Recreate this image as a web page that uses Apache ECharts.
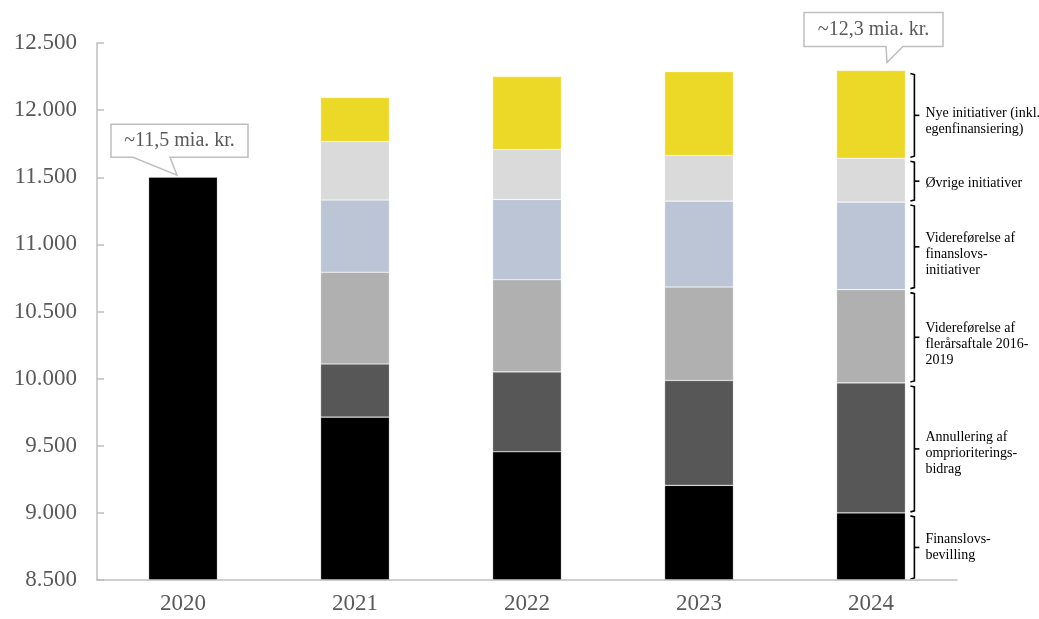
<!DOCTYPE html>
<html>
<head>
<meta charset="utf-8">
<script src="https://cdn.jsdelivr.net/npm/echarts@6/dist/echarts.min.js"></script>
<style>
html,body{margin:0;padding:0;background:#fff;}
#chart{width:1039px;height:619px;}
</style>
</head>
<body>
<div id="chart"></div>
<script>
// ---- data ----
const categories = ['2020', '2021', '2022', '2023', '2024'];
const finanslovsbevilling = [11500, 9713, 9455, 9205, 9000];
const annullering = ['-', 396, 595, 781, 968];
const flerarsaftale = ['-', 683, 687, 696, 695];
const finanslovsInitiativer = ['-', 538, 598, 640, 652];
const ovrigeInitiativer = ['-', 436, 372, 340, 327];
const nyeInitiativer = ['-', 328, 543, 625, 653];
const seriesNames = ['Finanslovsbevilling', 'Annullering af omprioriteringsbidrag', 'Videreførelse af flerårsaftale 2016-2019', 'Videreførelse af finanslovsinitiativer', 'Øvrige initiativer', 'Nye initiativer (inkl. egenfinansiering)'];
const segmentLabels = ['Finanslovs-\nbevilling', 'Annullering af\nomprioriterings-\nbidrag', 'Videreførelse af\nflerårsaftale 2016-\n2019', 'Videreførelse af\nfinanslovs-\ninitiativer', 'Øvrige initiativer', 'Nye initiativer (inkl.\negenfinansiering)'];
const calloutCategories = ['2020', '2024'];
const calloutTexts = ['~11,5 mia. kr.', '~12,3 mia. kr.'];
const yMin = 8500, yMax = 12500, yInterval = 500;

// ---- styling ----
const colors = ['#000000', '#575757', '#b0b0b0', '#bcc5d6', '#d9dad9', '#ecd826'];
const FONT = '"Liberation Serif", "Times New Roman", serif';
// small vertical nudges of the bracket labels (pixels)
const labelNudge = [0, 4, 7, 7, 2, 6];
// callout box geometry relative to bar centre / bar top (pixels)
const calloutGeom = [
  {L: -72, R: 65, T: -53, B: -20, bl: -50, br: -13, tx: -6, ty: -2},
  {L: -67, R: 72, T: -58, B: -24, bl: 15, br: 32, tx: 16, ty: -8}
];

const allSeries = [finanslovsbevilling, annullering, flerarsaftale, finanslovsInitiativer, ovrigeInitiativer, nyeInitiativer];

// brackets for the last category, built from the stacked values
const lastIdx = categories.length - 1;
const bracketData = [];
let cum = 0;
allSeries.forEach((s, i) => {
  const v = s[lastIdx];
  const low = i === 0 ? yMin : cum;
  cum += v;
  bracketData.push([lastIdx, low, cum, i]);
});

// callout data: value at top of stacked bar
const calloutData = calloutCategories.map((c, k) => {
  const idx = categories.indexOf(c);
  let total = 0;
  allSeries.forEach(s => { if (s[idx] !== '-') total += s[idx]; });
  return [idx, total, k];
});

const chart = echarts.init(document.getElementById('chart'));

const barSeries = allSeries.map((s, i) => ({
  name: seriesNames[i],
  type: 'bar',
  stack: 'total',
  barWidth: '40%',
  data: s,
  itemStyle: {color: colors[i], borderColor: 'rgba(255,255,255,0.45)', borderWidth: 0.6},
  emphasis: {disabled: true},
  z: 2
}));

const bracketSeries = {
  type: 'custom',
  coordinateSystem: 'cartesian2d',
  clip: false,
  silent: true,
  z: 5,
  encode: {x: 0, y: [1, 2]},
  data: bracketData,
  renderItem: function (params, api) {
    const c = api.value(0);
    const i = api.value(3);
    const pLow = api.coord([c, api.value(1)]);
    const pHigh = api.coord([c, api.value(2)]);
    const bw = api.size([1, 0])[0] * 0.4;
    const bx = pLow[0] + bw / 2 + 9;
    const top = pHigh[1] + 3, bot = pLow[1] - 1, mid = (top + bot) / 2;
    const st = {stroke: '#000', lineWidth: 1.6, fill: null};
    return {
      type: 'group',
      children: [
        {type: 'polyline', shape: {points: [[bx - 4, top], [bx, top + 1], [bx, bot - 1], [bx - 4, bot]]}, style: st},
        {type: 'line', shape: {x1: bx, y1: mid, x2: bx + 5, y2: mid}, style: st},
        {type: 'text', x: bx + 11, y: mid + labelNudge[i], style: {
          text: segmentLabels[i], fill: '#000', font: '14px ' + FONT,
          lineHeight: 16, verticalAlign: 'middle', align: 'left'
        }}
      ]
    };
  }
};

const calloutSeries = {
  type: 'custom',
  coordinateSystem: 'cartesian2d',
  clip: false,
  silent: true,
  z: 6,
  encode: {x: 0, y: 1},
  data: calloutData,
  renderItem: function (params, api) {
    const k = api.value(2);
    const g = calloutGeom[k];
    const p = api.coord([api.value(0), api.value(1)]);
    const cx = p[0], cy = p[1];
    const pts = [
      [cx + g.L, cy + g.T], [cx + g.R, cy + g.T], [cx + g.R, cy + g.B],
      [cx + g.br, cy + g.B], [cx + g.tx, cy + g.ty], [cx + g.bl, cy + g.B],
      [cx + g.L, cy + g.B]
    ];
    return {
      type: 'group',
      children: [
        {type: 'polygon', shape: {points: pts}, style: {fill: '#fff', stroke: '#bfbfbf', lineWidth: 1.5}},
        {type: 'text', x: cx + (g.L + g.R) / 2, y: cy + (g.T + g.B) / 2, style: {
          text: calloutTexts[k], fill: '#595959', font: '20px ' + FONT, align: 'center', verticalAlign: 'middle'
        }}
      ]
    };
  }
};

chart.setOption({
  animation: false,
  backgroundColor: '#fff',
  grid: {left: 97, right: 82, top: 43, bottom: 39, containLabel: false},
  xAxis: {
    type: 'category',
    data: categories,
    axisLine: {lineStyle: {color: '#bfbfbf', width: 1.5}},
    axisTick: {show: false},
    axisLabel: {color: '#595959', fontFamily: FONT, fontSize: 23, margin: 12},
    z: 10
  },
  yAxis: {
    type: 'value',
    min: yMin, max: yMax, interval: yInterval,
    axisLine: {show: true, lineStyle: {color: '#bfbfbf', width: 1.5}},
    axisTick: {show: true, inside: true, length: 7, lineStyle: {color: '#bfbfbf', width: 1.5}},
    splitLine: {show: false},
    axisLabel: {
      color: '#595959', fontFamily: FONT, fontSize: 23, margin: 20,
      formatter: v => String(v).replace(/\B(?=(\d{3})+(?!\d))/g, '.')
    },
    z: 10
  },
  series: barSeries.concat([bracketSeries, calloutSeries])
});
</script>
</body>
</html>
